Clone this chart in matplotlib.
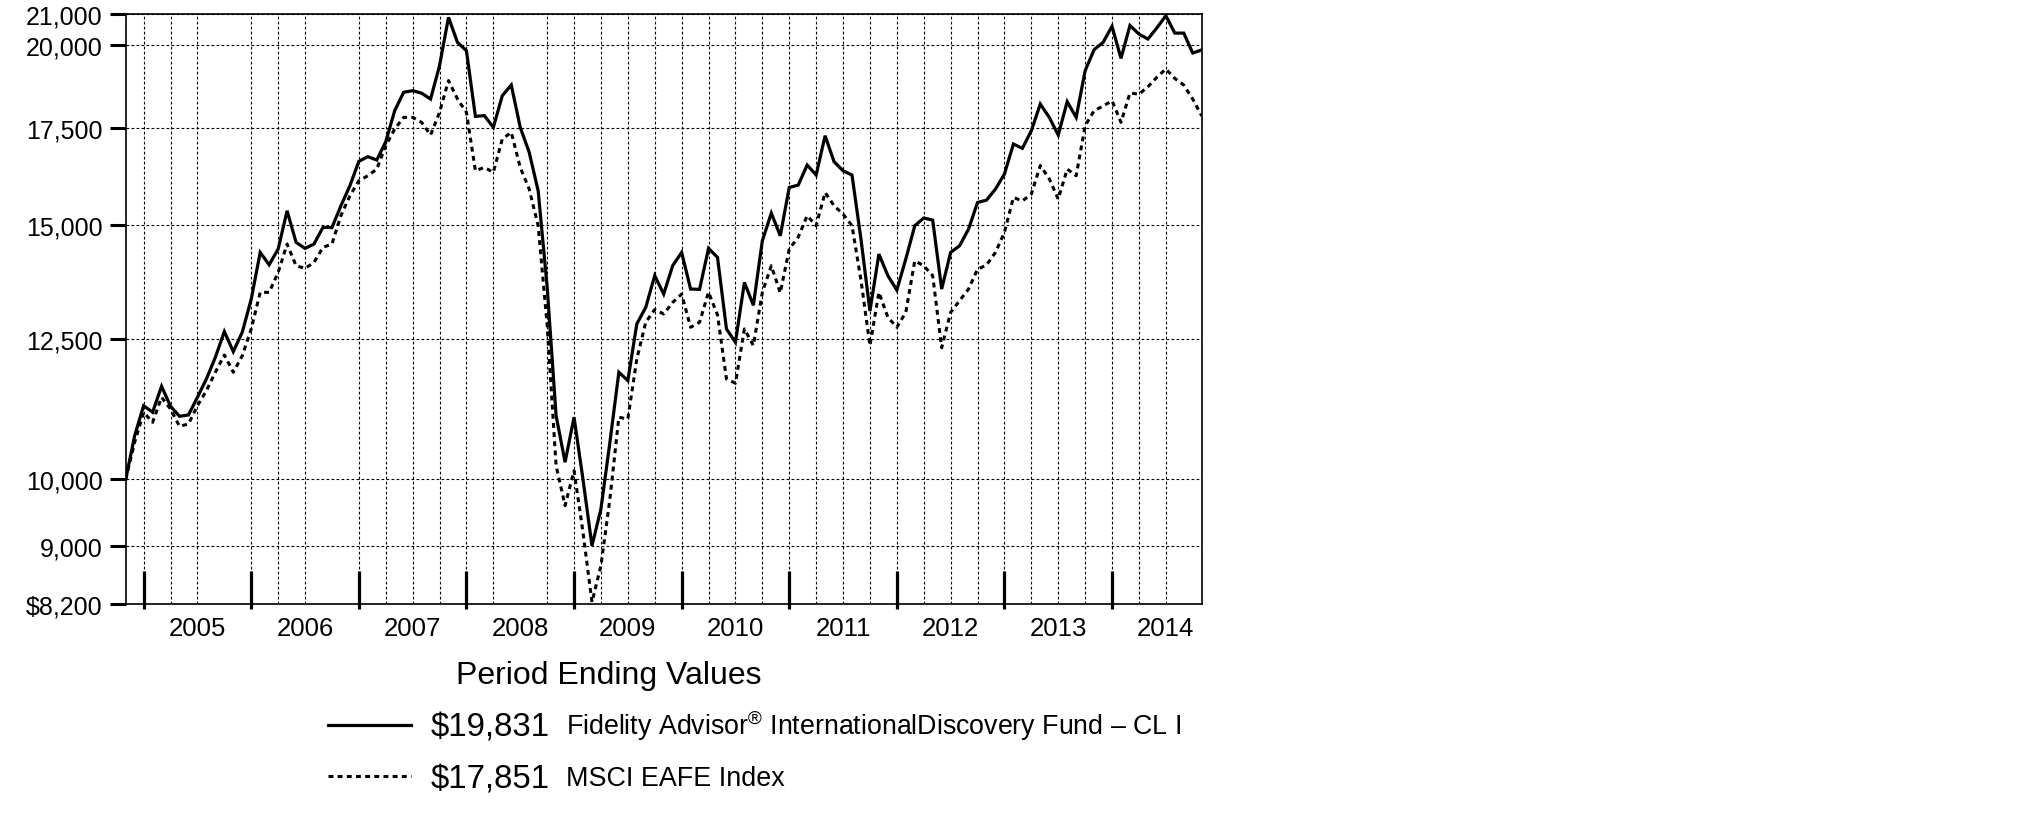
import numpy as np
import matplotlib
matplotlib.use('Agg')
import matplotlib.pyplot as plt
from matplotlib.lines import Line2D

plt.rcParams['font.family'] = ['Liberation Sans', 'DejaVu Sans']
plt.rcParams['mathtext.fontset'] = 'custom'
plt.rcParams['mathtext.rm'] = 'Liberation Sans'

# month-end values, Oct 2004 .. Oct 2014 (index 0 = Oct 31, 2004)
fund_values = [
    10000, 10724, 11248, 11131, 11602, 11237, 11060, 11083, 11400, 11738,
    12151, 12658, 12261, 12646, 13330, 14361, 14081, 14438, 15346, 14593,
    14454, 14554, 14946, 14940, 15469, 15970, 16605, 16728, 16640, 17132,
    18000, 18536, 18584, 18510, 18338, 19340, 20888, 20072, 19806, 17838,
    17860, 17529, 18436, 18753, 17529, 16845, 15843, 13600, 11071, 10279,
    11043, 10000, 8998, 9542, 10612, 11864, 11707, 12813, 13158, 13839,
    13439, 14060, 14361, 13547, 13540, 14454, 14249, 12712, 12445, 13691,
    13200, 14630, 15290, 14747, 15928, 15987, 16507, 16246, 17297, 16594,
    16358, 16246, 14669, 13080, 14323, 13839, 13523, 14211, 14985, 15170,
    15120, 13547, 14361, 14515, 14906, 15551, 15609, 15886, 16272, 17069,
    16952, 17435, 18193, 17810, 17316, 18261, 17810, 19186, 19839, 20072,
    20590, 19566, 20620, 20339, 20178, 20540, 20943, 20370, 20370, 19734,
    19831,
]
index_values = [
    10000, 10612, 11131, 10954, 11400, 11189, 10885, 10925, 11248, 11521,
    11864, 12196, 11864, 12180, 12712, 13476, 13476, 13910, 14554, 14060,
    14000, 14134, 14477, 14554, 15226, 15716, 16098, 16227, 16401, 17023,
    17482, 17810, 17810, 17669, 17316, 17953, 18885, 18338, 17953, 16358,
    16445, 16315, 17205, 17390, 16445, 15886, 14985, 12800, 10223, 9592,
    10142, 9192, 8225, 8716, 9694, 11043, 11012, 12118, 12848, 13111,
    13019, 13260, 13438, 12746, 12848, 13480, 13000, 11738, 11658, 12712,
    12380, 13476, 14060, 13464, 14438, 14714, 15226, 14985, 15800, 15469,
    15268, 14985, 13740, 12380, 13476, 12950, 12746, 13053, 14170, 14060,
    13839, 12336, 13053, 13300, 13547, 13981, 14073, 14361, 14827, 15676,
    15590, 15759, 16495, 16147, 15636, 16401, 16227, 17574, 18000, 18133,
    18287, 17669, 18516, 18480, 18700, 18985, 19237, 18950, 18752, 18338,
    17851,
]
years = ['2005', '2006', '2007', '2008', '2009', '2010', '2011', '2012', '2013', '2014']
y_ticks = [8200, 9000, 10000, 12500, 15000, 17500, 20000, 21000]
y_labels = ['$8,200', '9,000', '10,000', '12,500', '15,000', '17,500', '20,000', '21,000']
fund_name = 'Fidelity Advisor$^{\\mathrm{®}}$ InternationalDiscovery Fund – CL I'
index_name = 'MSCI EAFE Index'
fund_end = '$19,831'
index_end = '$17,851'

months = np.arange(len(fund_values))
year_starts = 2 + 12 * np.arange(len(years))       # Dec 31 of previous year
year_mids = year_starts + 6
grid_months = [m for m in range(2, 118, 3) if m not in (11, 23, 44)]

fig = plt.figure(figsize=(20.25, 8.28), dpi=100)
ax = fig.add_axes([125.7 / 2025, 1 - 605 / 828, 1076 / 2025, 590 / 828])

ax.plot(months, fund_values, color='black', lw=2.3, solid_joinstyle='miter', zorder=4)
ax.plot(months, index_values, color='black', lw=2.2, linestyle=(0, (1.6, 1.4)), zorder=3)

ax.set_yscale('log')
ax.set_ylim(8200, 21000)
ax.set_xlim(0, 120)
ax.set_yticks(y_ticks)
ax.set_yticklabels(y_labels)
ax.yaxis.set_minor_locator(matplotlib.ticker.NullLocator())
ax.tick_params(axis='y', which='major', direction='out', length=11.5, width=2.2,
               pad=5, labelsize=18)
ax.grid(True, which='major', axis='y', color='black', lw=0.8, linestyle=(0, (2.5, 2)))

# year labels mid-year, vertical grid every quarter
ax.set_xticks(year_mids)
ax.set_xticklabels(years)
ax.tick_params(axis='x', which='major', length=0, pad=9, labelsize=18.5)
ax.vlines(grid_months, 0, 1, transform=ax.get_xaxis_transform(),
          color='black', lw=0.8, linestyle=(0, (2.5, 2)), zorder=1)
ax.vlines(year_starts, -0.009, 0.056, transform=ax.get_xaxis_transform(),
          color='black', lw=2.3, clip_on=False, zorder=5)

for s in ax.spines.values():
    s.set_linewidth(1.2)

# legend block
fig.text(456 / 2025, 1 - 684 / 828, 'Period Ending Values', fontsize=23, va='baseline')
fig.add_artist(Line2D([328 / 2025, 411 / 2025], [1 - 726 / 828] * 2, color='black', lw=2.3))
fig.add_artist(Line2D([328 / 2025, 411 / 2025], [1 - 777 / 828] * 2, color='black', lw=2.2,
                      linestyle=(0, (1.6, 1.4))))
fig.text(431 / 2025, 1 - 737 / 828, fund_end, fontsize=23.8, va='baseline')
fig.text(431 / 2025, 1 - 789 / 828, index_end, fontsize=23.8, va='baseline')
fig.text(566 / 2025, 1 - 735 / 828, fund_name, fontsize=19.3, va='baseline')
fig.text(566 / 2025, 1 - 786 / 828, index_name, fontsize=19.4, va='baseline')

fig.savefig('out.png', dpi=100)
